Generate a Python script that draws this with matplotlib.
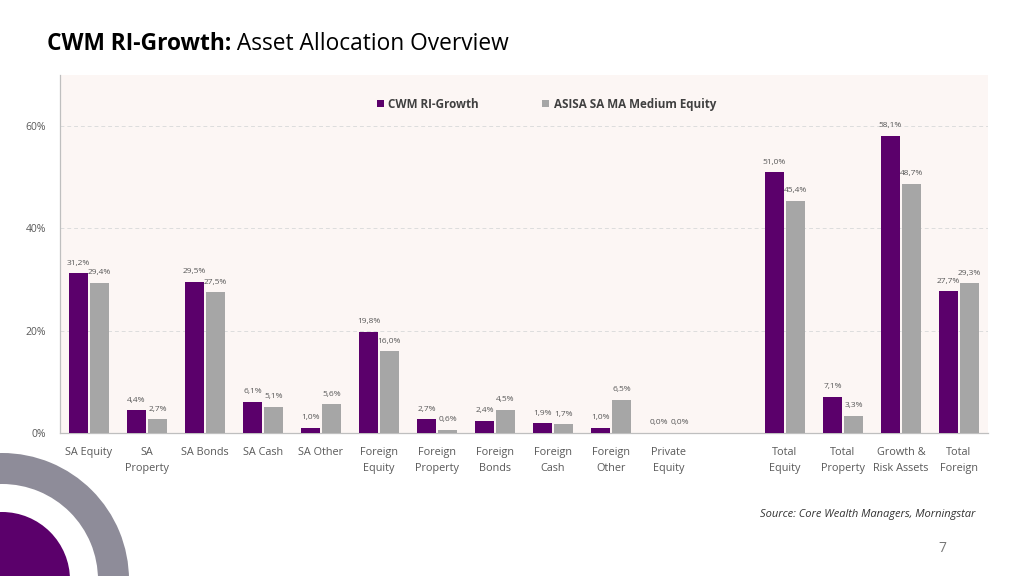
import numpy as np
import matplotlib
matplotlib.use('Agg')
import matplotlib.pyplot as plt
from matplotlib.patches import Wedge, Circle

plt.rcParams['font.family'] = ['Open Sans', 'DejaVu Sans']

# ── Data ──────────────────────────────────────────────────────────────────────
categories = ['SA Equity', 'SA\nProperty', 'SA Bonds', 'SA Cash', 'SA Other',
              'Foreign\nEquity', 'Foreign\nProperty', 'Foreign\nBonds', 'Foreign\nCash',
              'Foreign\nOther', 'Private\nEquity', '',
              'Total\nEquity', 'Total\nProperty', 'Growth &\nRisk Assets', 'Total\nForeign']
cwm   = [31.2, 4.4, 29.5, 6.1, 1.0, 19.8, 2.7, 2.4, 1.9, 1.0, 0.0, None, 51.0, 7.1, 58.1, 27.7]
asisa = [29.4, 2.7, 27.5, 5.1, 5.6, 16.0, 0.6, 4.5, 1.7, 6.5, 0.0, None, 45.4, 3.3, 48.7, 29.3]
series_names = ['CWM RI-Growth', 'ASISA SA MA Medium Equity']
yticks = [0, 20, 40, 60]

PURPLE = '#5B006B'
GREY   = '#A6A6A6'
TXT    = '#595959'
BG     = '#FCF6F4'

W, H = 1024, 576
fig = plt.figure(figsize=(W/100, H/100), dpi=100)

# page overlay in pixel coords (decoration + title + footer)
page = fig.add_axes([0, 0, 1, 1])
page.set_xlim(0, W); page.set_ylim(H, 0); page.axis('off')
page.add_patch(Wedge((2, 580), 127, 0, 360, width=31, color='#8E8C99', lw=0))
page.add_patch(Circle((2, 580), 68, color=PURPLE, lw=0))

t1 = page.text(47, 50, 'CWM RI-Growth:', fontsize=16.4, fontweight='bold', color='black',
               va='baseline', ha='left')
page.annotate(' Asset Allocation Overview', xy=(1, 0), xycoords=t1, va='bottom', ha='left',
              fontsize=16.4, color='black')
page.text(975, 514, 'Source: Core Wealth Managers, Morningstar', fontsize=8, style='italic',
          color='#333333', ha='right', va='center')
page.text(942, 549, '7', fontsize=10, color='#777777', ha='center', va='center')

# ── Chart ─────────────────────────────────────────────────────────────────────
ax = fig.add_axes([60/W, (H-433)/H, 928/W, (433-75)/H])
ax.set_facecolor(BG)
x = np.arange(len(categories))
bw = 0.34
for vals, off, col, name in [(cwm, -bw/2 - 0.01, PURPLE, series_names[0]),
                             (asisa, bw/2 + 0.01, GREY, series_names[1])]:
    xs = [xi + off for xi, v in zip(x, vals) if v is not None]
    vs = [v for v in vals if v is not None]
    ax.bar(xs, vs, width=bw, color=col, label=name, zorder=3)
    for xi, v in zip(xs, vs):
        ax.text(xi, v + 1.3, f'{v:.1f}%'.replace('.', ','), ha='center', va='bottom',
                fontsize=6, color=TXT, zorder=4)

ax.set_xlim(-0.5, len(categories) - 0.5)
ax.set_ylim(0, 70)
ax.set_yticks(yticks)
ax.set_yticklabels([f'{t}%' for t in yticks], fontsize=7.5, color=TXT)
ax.set_xticks(x)
ax.set_xticklabels(categories, fontsize=7.8, color=TXT, linespacing=1.6)
ax.tick_params(axis='both', length=0, pad=10)
ax.tick_params(axis='x', pad=10)
for yv in yticks[1:]:
    ax.axhline(yv, color='#DDDDDD', lw=0.7, ls=(0, (4, 3)), zorder=1)
for s in ['top', 'right']:
    ax.spines[s].set_visible(False)
for s in ['left', 'bottom']:
    ax.spines[s].set_color('#BFBFBF')
    ax.spines[s].set_linewidth(0.9)

leg = ax.legend(loc='center', bbox_to_anchor=(0.524, 0.918), ncol=2, frameon=False,
                handlelength=0.6, handleheight=0.6, handletextpad=0.4, columnspacing=5.4,
                prop={'size': 8.4, 'weight': 'bold'})
for t in leg.get_texts():
    t.set_color('#404040')

fig.savefig('out.png', dpi=100, facecolor='white')
